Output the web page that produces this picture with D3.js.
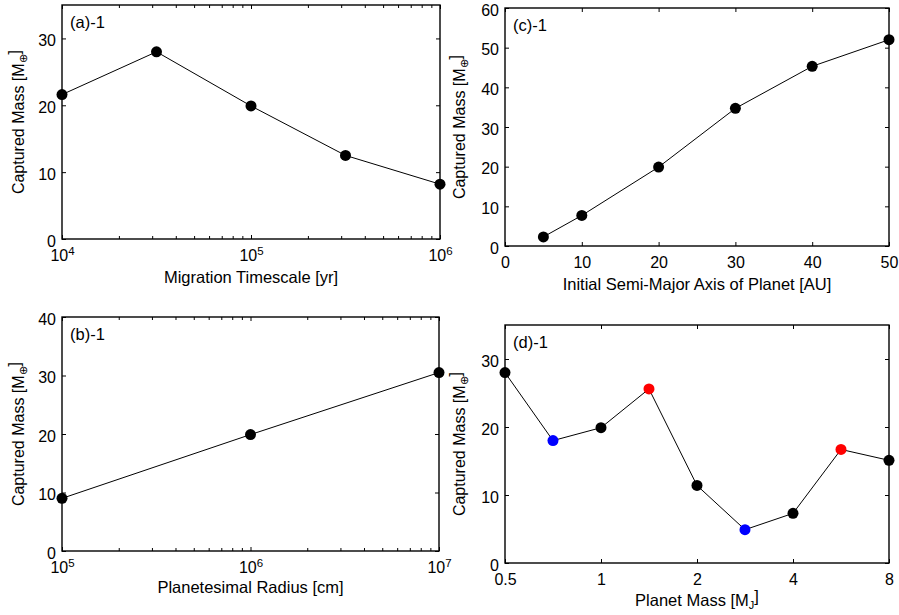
<!DOCTYPE html>
<html><head><meta charset="utf-8">
<script src="https://cdn.jsdelivr.net/npm/d3@7"></script>
<style>
body{margin:0;background:#fff;}
text{font-family:"Liberation Sans",Arial,sans-serif;fill:#000;}
</style></head>
<body><svg id="c" width="899" height="615"></svg>
<script>
// ---- data ----
const aX = [1e4, 31623, 1e5, 316228, 1e6];
const aY = [21.6, 28.0, 19.9, 12.5, 8.2];
const aXTicks = [4, 5, 6];           // exponents
const aYTicks = [0, 10, 20, 30];

const bX = [1e5, 1e6, 1e7];
const bY = [9.0, 19.9, 30.5];
const bXTicks = [5, 6, 7];
const bYTicks = [0, 10, 20, 30, 40];

const cX = [5, 10, 20, 30, 40, 50];
const cY = [2.3, 7.7, 19.9, 34.7, 45.3, 52.0];
const cXTicks = [0, 10, 20, 30, 40, 50];
const cYTicks = [0, 10, 20, 30, 40, 50, 60];

const dX = [0.5, 0.707, 1, 1.414, 2, 2.828, 4, 5.657, 8];
const dY = [28.0, 18.0, 19.9, 25.6, 11.4, 4.9, 7.3, 16.7, 15.1];
const dGroup = ["k", "b", "k", "r", "k", "b", "k", "r", "k"];
const dXTicks = [0.5, 1, 2, 4, 8];
const dXTickLabels = ["0.5", "1", "2", "4", "8"];
const dYTicks = [0, 10, 20, 30];

const groupColor = {k: "#000000", b: "#0000ff", r: "#ff0000"};

const svg = d3.select("#c");
const TICK_FS = "16px", TITLE_FS = "16.5px";

function panel(cfg) {
  const {L, R, T, B} = cfg.box;
  const g = svg.append("g");
  const x = cfg.xType === "log" ? d3.scaleLog().domain(cfg.xDomain).range([L, R])
          : d3.scaleLinear().domain(cfg.xDomain).range([L, R]);
  const y = d3.scaleLinear().domain(cfg.yDomain).range([B, T]);

  // minor ticks (log)
  if (cfg.minor) {
    const [lo, hi] = cfg.xDomain;
    const minor = [];
    for (let e = Math.log10(lo); e < Math.log10(hi); e++)
      for (let k = 2; k <= 9; k++) minor.push(k * Math.pow(10, e));
    g.append("g").attr("transform", `translate(0,${B})`)
      .call(d3.axisBottom(x).tickValues(minor).tickSize(-3).tickFormat(""))
      .call(s => s.select(".domain").remove());
    g.append("g").attr("transform", `translate(0,${T})`)
      .call(d3.axisTop(x).tickValues(minor).tickSize(-3).tickFormat(""))
      .call(s => s.select(".domain").remove());
  }

  // bottom axis
  const xb = g.append("g").attr("transform", `translate(0,${B})`)
    .call(d3.axisBottom(x).tickValues(cfg.xTicks).tickSize(-4).tickPadding(11)
      .tickFormat(cfg.xFormat || (d => d)));
  xb.select(".domain").remove();
  xb.selectAll("text").style("font-size", TICK_FS).attr("fill", "#000");
  if (cfg.xType === "log" && cfg.minor) {
    xb.selectAll("text").text(null).each(function(d) {
      const t = d3.select(this);
      t.append("tspan").text("10");
      t.append("tspan").attr("dy", "-0.55em").style("font-size", "11.5px").text(Math.round(Math.log10(d)));
    });
  }
  g.append("g").attr("transform", `translate(0,${T})`)
    .call(d3.axisTop(x).tickValues(cfg.xTicks).tickSize(-4).tickFormat(""))
    .call(s => s.select(".domain").remove());

  // left axis
  const yl = g.append("g").attr("transform", `translate(${L},0)`)
    .call(d3.axisLeft(y).tickValues(cfg.yTicks).tickSize(-4).tickPadding(6));
  yl.select(".domain").remove();
  yl.selectAll("text").style("font-size", TICK_FS).attr("fill", "#000").attr("dy", "0.45em");
  g.append("g").attr("transform", `translate(${R},0)`)
    .call(d3.axisRight(y).tickValues(cfg.yTicks).tickSize(-4).tickFormat(""))
    .call(s => s.select(".domain").remove());

  g.selectAll(".tick line").attr("stroke", "#000").attr("stroke-width", 1);

  // frame
  g.append("rect").attr("x", L).attr("y", T).attr("width", R - L).attr("height", B - T)
    .attr("fill", "none").attr("stroke", "#000").attr("stroke-width", 1.4);

  // line + markers
  const pts = cfg.xs.map((v, i) => ({x: v, y: cfg.ys[i], c: cfg.colors ? groupColor[cfg.colors[i]] : "#000"}));
  g.append("path").datum(pts)
    .attr("d", d3.line().x(d => x(d.x)).y(d => y(d.y)))
    .attr("fill", "none").attr("stroke", "#000").attr("stroke-width", 1);
  g.selectAll("circle.pt").data(pts).join("circle")
    .attr("cx", d => x(d.x)).attr("cy", d => y(d.y)).attr("r", 5.5)
    .attr("fill", d => d.c);

  // panel tag
  g.append("text").attr("x", L + 8).attr("y", T + 23).style("font-size", TITLE_FS).text(cfg.tag);

  // x title
  g.append("text").attr("x", (L + R) / 2).attr("y", cfg.xTitleY).attr("text-anchor", "middle")
    .style("font-size", TITLE_FS).call(t => {
      if (cfg.xTitleSub) {
        t.append("tspan").text(cfg.xTitle);
        t.append("tspan").attr("dy", "0.3em").style("font-size", "11px").text(cfg.xTitleSub);
        t.append("tspan").attr("dy", "-0.45em").text("]");
      } else t.text(cfg.xTitle);
    });

  // y title
  g.append("text").attr("transform", `translate(${cfg.yTitleX},${(T + B) / 2}) rotate(-90)`)
    .attr("text-anchor", "middle").style("font-size", "16px").call(t => {
      t.append("tspan").text("Captured Mass [M");
      t.append("tspan").attr("dy", "0.3em").style("font-size", "11px").text("⊕");
      t.append("tspan").attr("dy", "-0.45em").text("]");
    });
}

panel({box: {L: 62, R: 440, T: 5, B: 239}, xType: "log", xDomain: [1e4, 1e6], minor: true,
  xTicks: aXTicks.map(e => Math.pow(10, e)), yDomain: [0, 35], yTicks: aYTicks,
  xs: aX, ys: aY, tag: "(a)-1", xTitle: "Migration Timescale [yr]", xTitleY: 283, yTitleX: 24});

panel({box: {L: 62, R: 439, T: 317, B: 551}, xType: "log", xDomain: [1e5, 1e7], minor: true,
  xTicks: bXTicks.map(e => Math.pow(10, e)), yDomain: [0, 40], yTicks: bYTicks,
  xs: bX, ys: bY, tag: "(b)-1", xTitle: "Planetesimal Radius [cm]", xTitleY: 593, yTitleX: 24});

panel({box: {L: 505, R: 889, T: 8, B: 246}, xType: "lin", xDomain: [0, 50],
  xTicks: cXTicks, yDomain: [0, 60], yTicks: cYTicks,
  xs: cX, ys: cY, tag: "(c)-1", xTitle: "Initial Semi-Major Axis of Planet [AU]", xTitleY: 290, yTitleX: 465});

panel({box: {L: 505, R: 889, T: 325, B: 563}, xType: "log", xDomain: [0.5, 8],
  xTicks: dXTicks, xFormat: (d, i) => dXTickLabels[i], yDomain: [0, 35], yTicks: dYTicks,
  xs: dX, ys: dY, colors: dGroup, tag: "(d)-1", xTitle: "Planet Mass [M", xTitleSub: "J", xTitleY: 606, yTitleX: 465});
</script></body></html>
